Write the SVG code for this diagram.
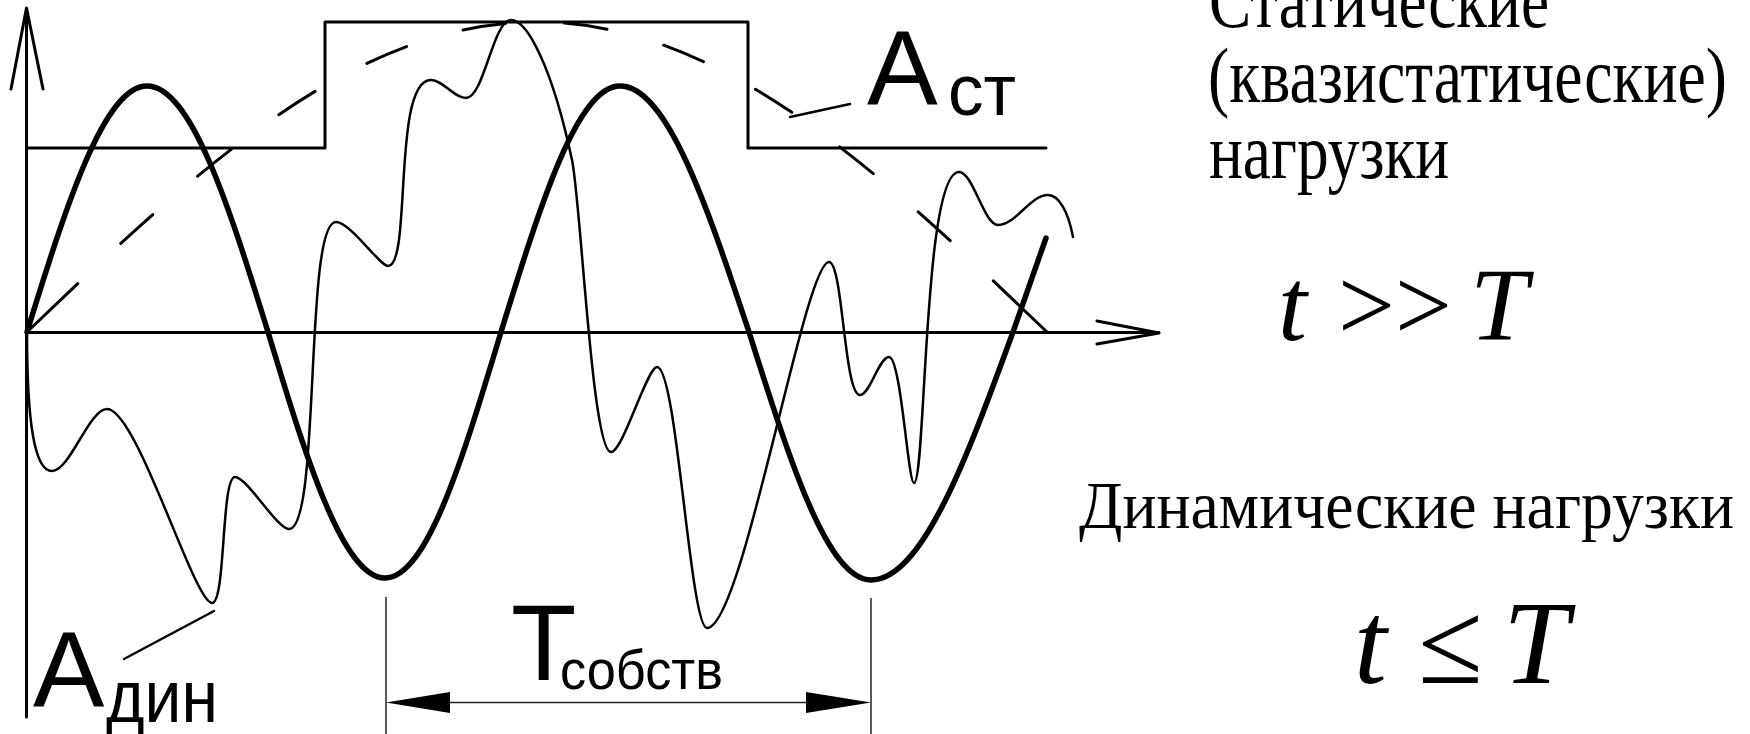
<svg xmlns="http://www.w3.org/2000/svg" width="1750" height="734" viewBox="0 0 1750 734">
<style>
.ln{fill:none;stroke:#000;stroke-linecap:round;stroke-linejoin:round}
.sans{font-family:"Liberation Sans",Arial,sans-serif;fill:#000}
.serif{font-family:"Liberation Serif","Times New Roman",serif;fill:#000}
.it{font-style:italic}
</style>
<rect width="1750" height="734" fill="#fff"/>
<g id="axes">
<path class="ln" stroke-width="3" d="M26.5,717 V8 M11,89 L26.5,8 L43,89"/>
<path class="ln" stroke-width="3" d="M26.5,332.5 H1159 M1097,321 L1159,333 L1097,344"/>
</g>
<g id="step-load">
<path class="ln" stroke-width="3" stroke-linecap="butt" stroke-linejoin="miter" d="M26.5,148 H325 V22 H748 V148 H1046"/>
</g>
<g id="quasi-static">
<path class="ln" stroke-width="3" stroke-linecap="butt" stroke-dasharray="70 59 43 59 43 59 43 59 43 59 43 59 43 59 43 59 43 59 43 59 43 59 90" d="M27,332 C193,173 352,22 537,22 C722,22 881,173 1047,332"/>
</g>
<g id="dynamic">
<path class="ln" stroke-width="2.5" d="M27,332 C27,420 34,471 52,471 C70,471 89,409 107,409 C137,409 194,603 212,603 C226,603 221,477 235,477 C247,477 277,529 289,529 C321,529 304,222 336,222 C350,222 380,266 388,266 C412,266 392,80 431,80 C443,80 454,98 466,98 C484,98 493,20 511,20 C527,20 552,66 572,160 C581,202 592,452 611,452 C623,452 647,367 657,367 C677,367 690,628 707,628 C743,628 804,262 829,262 C843,262 844,395 860,395 C870,395 879,357 889,357 C901,357 908,483 914,483 C926,483 923,172 959,172 C973,172 984,225 998,225 C1016,225 1030,195 1048,195 C1058,195 1068,210 1073,237"/>
</g>
<g id="natural">
<path class="ln" stroke-width="5.5" d="M27,332 C66,206 104,86 147,86 C191,86 229,206 268,332 C306,458 343,578 385,578 C427,578 463,458 501,332 C540,206 577,86 620,86 C667,86 707,206 749,332 C789,458 827,580 871,580 C922,580 967,458 1013,332 L1046,238"/>
</g>
<g id="connectors">
<path class="ln" stroke-width="2.5" d="M124,659 L214,611"/>
<path class="ln" stroke-width="2.5" d="M790,117 L850,104"/>
<path fill="none" stroke="#222" stroke-width="1.5" d="M386,597 V734 M871,598 V734 M440,702.5 H820"/>
<polygon points="386,702.5 450,692 450,713" fill="#000"/>
<polygon points="871,702.5 806,692 806,713" fill="#000"/>
</g>
<g id="label-Ast">
<text class="sans" x="867" y="104" font-size="106">А</text>
<text class="sans" x="948" y="115" font-size="73" textLength="68" lengthAdjust="spacingAndGlyphs">ст</text>
</g>
<g id="label-Adin">
<text class="sans" x="33" y="707" font-size="107">А</text>
<text class="sans" x="106" y="722" font-size="75" textLength="112" lengthAdjust="spacingAndGlyphs">дин</text>
</g>
<g id="label-Tsobstv">
<text class="sans" x="511" y="680" font-size="107">Т</text>
<text class="sans" x="560" y="689" font-size="56" textLength="163" lengthAdjust="spacingAndGlyphs">собств</text>
</g>
<g id="static-text">
<text class="serif" x="1209" y="27" font-size="78" textLength="340" lengthAdjust="spacingAndGlyphs">Статические</text>
<text class="serif" x="1208" y="102" font-size="78" textLength="519" lengthAdjust="spacingAndGlyphs">(квазистатические)</text>
<text class="serif" x="1209" y="178" font-size="78" textLength="240" lengthAdjust="spacingAndGlyphs">нагрузки</text>
</g>
<g id="static-cond">
<text class="serif it" x="1278" y="340" font-size="104">t</text>
<text class="serif" x="1338" y="340" font-size="104" textLength="114" lengthAdjust="spacingAndGlyphs">&gt;&gt;</text>
<text class="serif it" x="1470" y="340" font-size="104">T</text>
</g>
<g id="dynamic-text">
<text class="serif" x="1079" y="528" font-size="68" textLength="655" lengthAdjust="spacingAndGlyphs">Динамические нагрузки</text>
</g>
<g id="dynamic-cond">
<text class="serif it" x="1354" y="683" font-size="118">t</text>
<text class="serif" x="1418" y="683" font-size="118">≤</text>
<text class="serif it" x="1503" y="683" font-size="118">T</text>
</g>
</svg>
